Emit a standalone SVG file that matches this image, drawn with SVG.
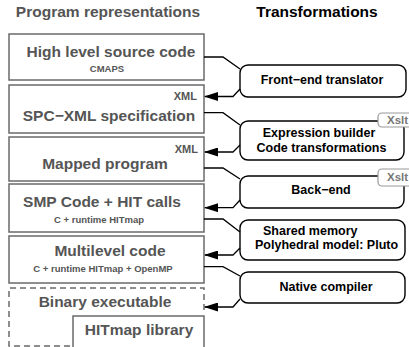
<svg xmlns="http://www.w3.org/2000/svg" width="409" height="347" viewBox="0 0 409 347">
  <defs>
    <style>
      text { font-family: "Liberation Sans", Arial, sans-serif; font-weight: bold; }
      .title { font-size: 15.5px; fill: #555; text-anchor: middle; }
      .title2 { font-size: 15.5px; fill: #000; text-anchor: middle; }
      .rep { fill: #fff; stroke: #6a6a6a; stroke-width: 1.5; }
      .big { font-size: 15.5px; fill: #555; text-anchor: middle; }
      .small { font-size: 9.5px; fill: #555; text-anchor: middle; }
      .tag { font-size: 11px; fill: #555; text-anchor: end; }
      .xf { fill: #fff; stroke: #000; stroke-width: 1.4; }
      .xft { font-size: 12.5px; fill: #000; text-anchor: middle; }
      .xslt { fill: #fff; stroke: #999; stroke-width: 1.2; }
      .xsltt { font-size: 11.5px; fill: #777; }
      .conn { fill: none; stroke: #000; stroke-width: 1.3; }
      .dash { fill: none; stroke: #6a6a6a; stroke-width: 1.5; stroke-dasharray: 6 4; }
    </style>
    <marker id="arrow" markerWidth="14" markerHeight="9" refX="13" refY="4.5" orient="auto" markerUnits="userSpaceOnUse">
      <path d="M0,0 L14,4.5 L0,9 Z" fill="#000"/>
    </marker>
  </defs>

  <!-- column headings -->
  <text class="title" x="108" y="17">Program representations</text>
  <text class="title2" x="317" y="17">Transformations</text>

  <!-- program representations -->
  <g id="high-level">
    <rect class="rep" x="9" y="34" width="195" height="46"/>
    <text class="big" x="111" y="57">High level source code</text>
    <text class="small" x="107" y="72">CMAPS</text>
  </g>
  <g id="spc-xml">
    <rect class="rep" x="9" y="85" width="195" height="48"/>
    <text class="tag" x="197" y="100">XML</text>
    <text class="big" x="109" y="121">SPC−XML specification</text>
  </g>
  <g id="mapped">
    <rect class="rep" x="9" y="137" width="195" height="44"/>
    <text class="tag" x="198" y="153">XML</text>
    <text class="big" x="105" y="169">Mapped program</text>
  </g>
  <g id="smp-code">
    <rect class="rep" x="9" y="184" width="195" height="48"/>
    <text class="big" x="102" y="207">SMP Code + HIT calls</text>
    <text class="small" x="99" y="223">C + runtime HITmap</text>
  </g>
  <g id="multilevel">
    <rect class="rep" x="9" y="236" width="195" height="47"/>
    <text class="big" x="110" y="256">Multilevel code</text>
    <text class="small" x="103" y="272">C + runtime HITmap + OpenMP</text>
  </g>
  <g id="binary">
    <path class="dash" d="M204,310 V288 H9 V346 H73"/>
    <text class="big" x="105" y="307">Binary executable</text>
  </g>
  <g id="hitmap-lib">
    <rect class="rep" x="73" y="316" width="131" height="34"/>
    <text class="big" x="139" y="335">HITmap library</text>
  </g>

  <!-- transformations -->
  <g id="front-end">
    <rect class="xf" x="240" y="65" width="166" height="32" rx="8"/>
    <text class="xft" x="322" y="84">Front−end translator</text>
  </g>
  <g id="expr-builder">
    <rect class="xf" x="240" y="121" width="164" height="39" rx="8"/>
    <text class="xft" x="319" y="137">Expression builder</text>
    <text class="xft" x="321.5" y="152">Code transformations</text>
    <rect class="xslt" x="378" y="113" width="40" height="14" rx="4"/>
    <text class="xsltt" x="387" y="124">Xslt</text>
  </g>
  <g id="back-end">
    <rect class="xf" x="240" y="176" width="164" height="32" rx="8"/>
    <text class="xft" x="321" y="194">Back−end</text>
    <rect class="xslt" x="378" y="169" width="40" height="17" rx="4"/>
    <text class="xsltt" x="387" y="181">Xslt</text>
  </g>
  <g id="shared-memory">
    <rect class="xf" x="240" y="220" width="165" height="40" rx="8"/>
    <text class="xft" x="263" y="235" style="text-anchor:start">Shared memory</text>
    <text class="xft" x="255" y="249" style="text-anchor:start">Polyhedral model: Pluto</text>
  </g>
  <g id="native">
    <rect class="xf" x="240" y="272" width="165" height="31" rx="8"/>
    <text class="xft" x="326" y="291">Native compiler</text>
  </g>

  <!-- connectors -->
  <g id="connectors">
    <path class="conn" d="M204,57 H223 L240,69"/>
    <path class="conn" d="M240,89 L233,96.5 H205" marker-end="url(#arrow)"/>
    <path class="conn" d="M204,112.7 H223 L240,125"/>
    <path class="conn" d="M240,145 L233,152 H205" marker-end="url(#arrow)"/>
    <path class="conn" d="M204,168 H223 L240,179"/>
    <path class="conn" d="M240,200 L233,207.7 H205" marker-end="url(#arrow)"/>
    <path class="conn" d="M204,219 H223 L240,232"/>
    <path class="conn" d="M240,248 L233,255 H205" marker-end="url(#arrow)"/>
    <path class="conn" d="M204,266.7 H223 L240,276"/>
    <path class="conn" d="M240,299 L233,307 H205" marker-end="url(#arrow)"/>
  </g>
</svg>
